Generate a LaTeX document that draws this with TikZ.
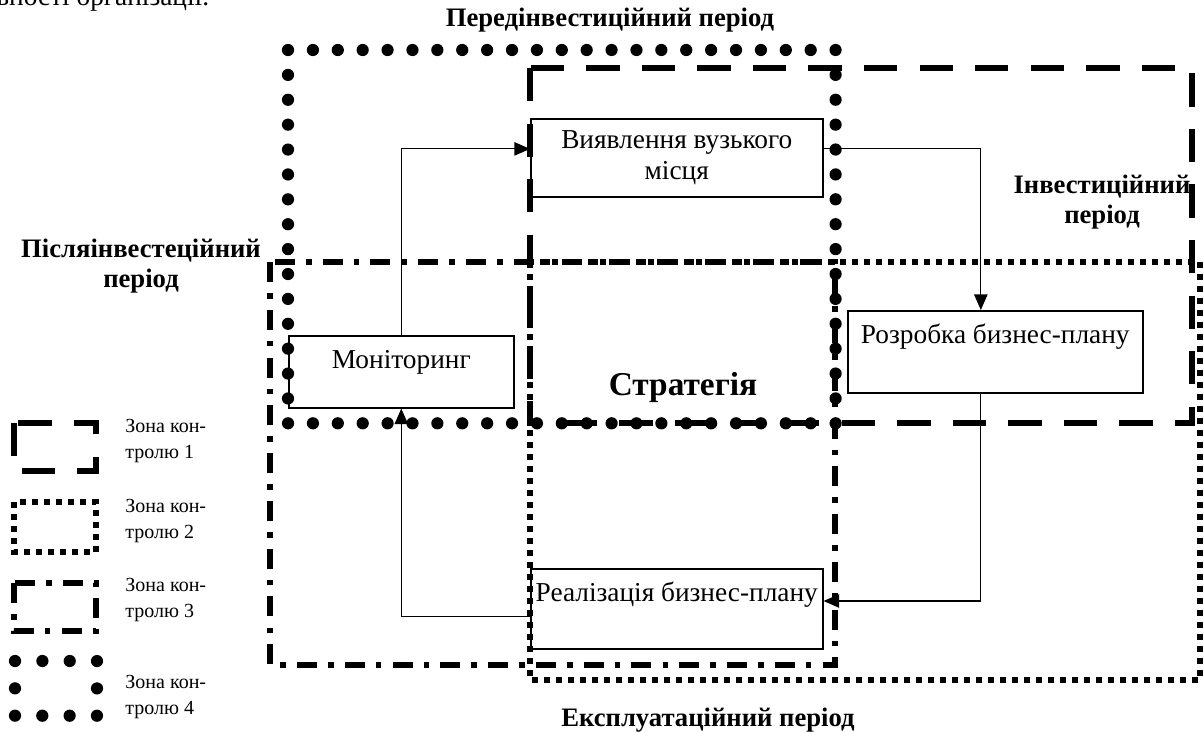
\documentclass[tikz,border=0pt]{standalone}
\usepackage{fontspec}
\setmainfont{Liberation Serif}
\usetikzlibrary{arrows.meta}
\tikzset{
  zona1/.style={line width=2.7pt, dash pattern=on 15pt off 10pt},
  zona2/.style={line width=2.5pt, dash pattern=on 2.5pt off 2.9pt},
  zona3/.style={line width=2.5pt, dash pattern=on 9pt off 5pt on 2.5pt off 5pt},
  zona4/.style={line width=5.5pt, line cap=round, dash pattern=on 0pt off 11.2pt},
  blok/.style={draw, line width=0.7pt, inner xsep=0pt, inner ysep=5pt, anchor=north west},
  strilka/.style={line width=0.5pt, -{Triangle[length=7pt,width=6pt]}},
  period/.style={font=\fontsize{12}{13.5}\selectfont\bfseries, align=center},
  legenda/.style={font=\fontsize{9}{12}\selectfont, align=left, anchor=west, inner xsep=0pt}
}
\begin{document}
\begin{tikzpicture}[x=0.45pt, y=-0.45pt, font=\fontsize{12.3}{13.8}\selectfont]
\useasboundingbox (0,0) rectangle (1204,732);

\node[anchor=base east] (fraza) at (217,5) {діяльності організації.};

\draw[zona4] (288,50) rectangle (835.6,423.3);
\draw[zona1] (530,68) rectangle (1192,423);
\draw[zona2] (530,262) rectangle (1200,680);
\draw[zona3] (270,262) rectangle (835,665);

\node[blok, minimum width=131.4pt, minimum height=35.1pt, align=center] (vyyav) at (530,118) {Виявлення вузького\\місця};
\node[blok, minimum width=101.25pt, text height=9.5pt, text depth=12.9pt] (monit) at (288,335) {Моніторинг};
\node[blok, minimum width=132.75pt, text height=9.5pt, text depth=17.4pt] (rozr) at (847,310) {Розробка бизнес-плану};
\node[blok, minimum width=131.4pt, text height=9.5pt, text depth=16.5pt] (real) at (530,568) {Реалізація бизнес-плану};

\draw[strilka] (monit.north) |- ([yshift=4pt]vyyav.west);
\draw[strilka] ([yshift=4pt]vyyav.east) -| ([xshift=-6.5pt]rozr.north);
\draw[strilka] ([xshift=-6.5pt]rozr.south) |- ([yshift=3.5pt]real.east);
\draw[strilka] ([yshift=-3.5pt]real.west) -| (monit.south);

\node[period] (pered) at (610,20) {Передінвестиційний період};
\node[period] (invest) at (1102,202) {Інвестиційний\\період};
\node[period] (pislia) at (141,266) {Післяінвестеційний\\період};
\node[font=\fontsize{15}{18}\selectfont\bfseries] (strat) at (683,387) {Стратегія};
\node[period] (ekspl) at (708,720) {Експлуатаційний період};

\draw[zona1] (14,423) rectangle (96,471);
\node[legenda] (leg1) at (125,441) {Зона кон-\\тролю 1};
\draw[zona2] (14,502) rectangle (96,552);
\node[legenda] (leg2) at (125,521) {Зона кон-\\тролю 2};
\draw[zona3] (14,583) rectangle (96,631);
\node[legenda] (leg3) at (125,600) {Зона кон-\\тролю 3};
\draw[zona4, dash pattern=on 0pt off 12.3pt] (15,661) rectangle (97,715.7);
\node[legenda] (leg4) at (125,697) {Зона кон-\\тролю 4};
\end{tikzpicture}
\end{document}
